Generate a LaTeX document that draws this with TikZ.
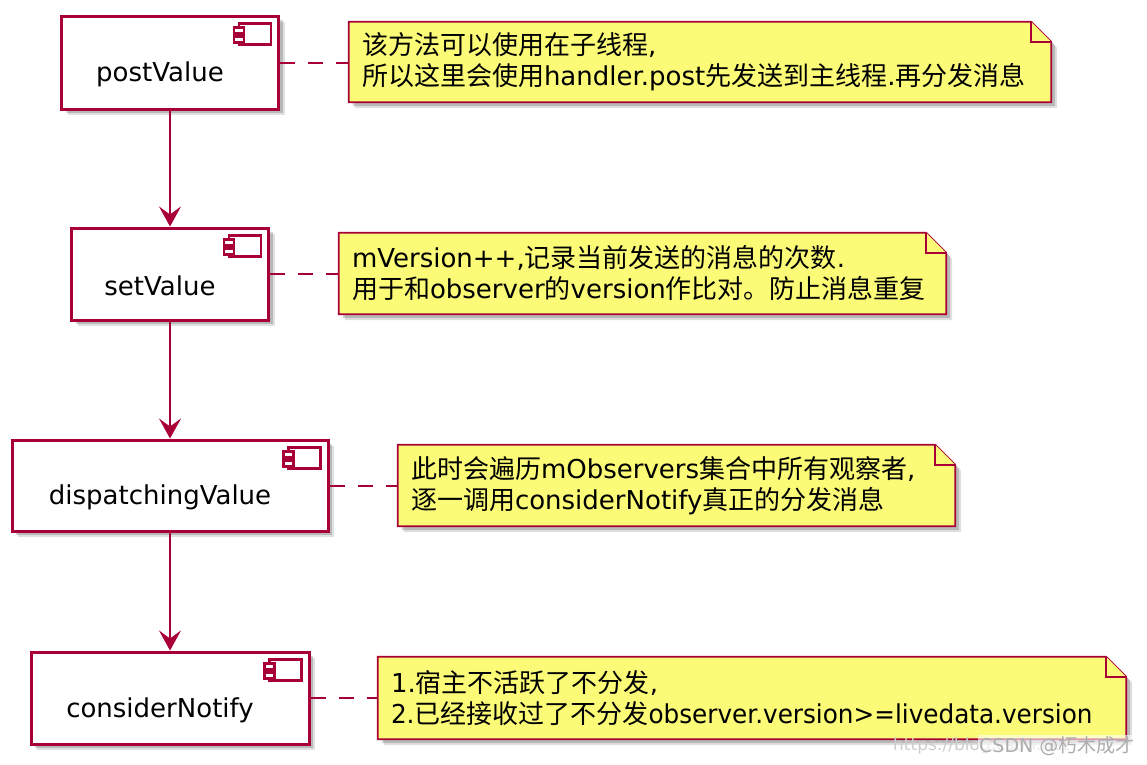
\documentclass[tikz,border=0pt]{standalone}
\usepackage{fontspec}
\setmainfont{DejaVu Sans}
\newfontfamily\cjk{Noto Sans CJK SC}
\newfontfamily\narrowlat{DejaVu Sans}[FakeStretch=0.95]
\newcommand\zh[1]{{\cjk #1}}
\usetikzlibrary{arrows.meta,shadows}
\definecolor{umlred}{HTML}{A80036}
\definecolor{noteyellow}{HTML}{FBFB77}
\newcommand\drawnote[1]{%
  \fill[black,opacity=.12] ([shift={(6,6)}]#1.north west) -- ([shift={(6,6)},xshift=-20pt]#1.north east) -- ([shift={(6,6)},yshift=-20pt]#1.north east) -- ([shift={(6,6)}]#1.south east) -- ([shift={(6,6)}]#1.south west) -- cycle;
  \fill[black,opacity=.18] ([shift={(4,4)}]#1.north west) -- ([shift={(4,4)},xshift=-20pt]#1.north east) -- ([shift={(4,4)},yshift=-20pt]#1.north east) -- ([shift={(4,4)}]#1.south east) -- ([shift={(4,4)}]#1.south west) -- cycle;
  \filldraw[notestyle] (#1.north west) -- ([xshift=-20pt]#1.north east) -- ([yshift=-20pt]#1.north east) -- (#1.south east) -- (#1.south west) -- cycle;
  \draw[notestyle,line join=miter] ([xshift=-20pt]#1.north east) -- ([xshift=-20pt,yshift=-20pt]#1.north east) -- ([yshift=-20pt]#1.north east);
}
\newcommand\drawicon[1]{%
  \draw[umlred,line width=2.2pt,fill=white] ([shift={(-41,9)}]#1.north east) rectangle ([shift={(-9,30)}]#1.north east);
  \draw[umlred,line width=2.2pt,fill=white] ([shift={(-46,13)}]#1.north east) rectangle ([shift={(-36,19)}]#1.north east);
  \draw[umlred,line width=2.2pt,fill=white] ([shift={(-46,22)}]#1.north east) rectangle ([shift={(-36,28)}]#1.north east);
}
\begin{document}
\begin{tikzpicture}[x=1pt,y=-1pt,
  every node/.style={font=\fontsize{26}{31}\selectfont},
  comp/.style={draw=umlred, line width=3pt, fill=white, rectangle, inner sep=0pt,
    drop shadow={shadow xshift=6pt,shadow yshift=-6pt,opacity=.12,fill=black},
    drop shadow={shadow xshift=4pt,shadow yshift=-4pt,opacity=.18,fill=black}},
  lbl/.style={inner sep=0pt, text=black},
  noteshape/.style={rectangle, draw=none, fill=none, inner sep=0pt},
  notestyle/.style={draw=umlred, line width=1.8pt, fill=noteyellow},
  notetxt/.style={align=left, inner sep=0pt, anchor=west, text=black},
  arr/.style={draw=umlred, line width=2pt, -{Stealth[length=20pt,width=22pt,inset=8pt]}},
  dashline/.style={draw=umlred, line width=2pt, dash pattern=on 15pt off 13pt},
  wm/.style={anchor=west, inner sep=0pt}
]
\useasboundingbox (0,0) rectangle (1147,764);

% components
\node[comp, minimum width=217pt, minimum height=93pt] (b1) at (170,62.5) {};
\node[comp, minimum width=197pt, minimum height=92pt] (b2) at (170,274) {};
\node[comp, minimum width=316pt, minimum height=91pt] (b3) at (170,485.5) {};
\node[comp, minimum width=278pt, minimum height=92pt] (b4) at (170,698) {};
\drawicon{b1}\drawicon{b2}\drawicon{b3}\drawicon{b4}
\node[lbl] (b1l) at ([shift={(-10,12)}]b1.center) {postValue};
\node[lbl] (b2l) at ([shift={(-10,12)}]b2.center) {setValue};
\node[lbl] (b3l) at ([shift={(-10,12)}]b3.center) {dispatchingValue};
\node[lbl] (b4l) at ([shift={(-10,12)}]b4.center) {considerNotify};

% notes
\node[noteshape, minimum width=702pt, minimum height=80pt] (n1) at (700,62) {};
\node[noteshape, minimum width=607pt, minimum height=81pt] (n2) at (642.5,273.5) {};
\node[noteshape, minimum width=557pt, minimum height=81pt] (n3) at (676.5,485.5) {};
\node[noteshape, minimum width=748pt, minimum height=82pt] (n4) at (752,698) {};
\drawnote{n1}\drawnote{n2}\drawnote{n3}\drawnote{n4}
\node[notetxt] (n1t) at ([xshift=13pt]n1.west) {\zh{该方法可以使用在子线程},\\\zh{所以这里会使用}handler.post\zh{先发送到主线程}.\zh{再分发消息}};
\node[notetxt] (n2t) at ([xshift=13pt]n2.west) {mVersion++,\zh{记录当前发送的消息的次数}.\\\zh{用于和}observer\zh{的}version\zh{作比对。防止消息重复}};
\node[notetxt] (n3t) at ([xshift=13pt]n3.west) {\zh{此时会遍历}mObservers\zh{集合中所有观察者},\\\zh{逐一调用}considerNotify\zh{真正的分发消息}};
\node[notetxt] (n4t) at ([xshift=13pt]n4.west) {1.\zh{宿主不活跃了不分发},\\{\narrowlat 2.}\zh{已经接收过了不分发}{\narrowlat observer.version>=livedata.version}};

% connectors
\draw[arr] (b1) -- (b2);
\draw[arr] (b2) -- (b3);
\draw[arr] (b3) -- (b4);
\draw[dashline] (b1.east) -- (b1.east -| n1.west);
\draw[dashline] (b2.east) -- (b2.east -| n2.west);
\draw[dashline] (b3.east) -- (b3.east -| n3.west);
\draw[dashline] (b4.east) -- (b4.east -| n4.west);

% watermark
\node[wm, text=gray!40, font=\fontsize{17}{17}\selectfont] (wm1) at (893,746) {https://blog.csdn.net};
\node[wm, text=gray!65, fill=white, fill opacity=0.6, text opacity=1, inner sep=1pt, font=\fontsize{19}{19}\selectfont] (wm2) at (978,746) {CSDN @\zh{朽木成才}};
\end{tikzpicture}
\end{document}
